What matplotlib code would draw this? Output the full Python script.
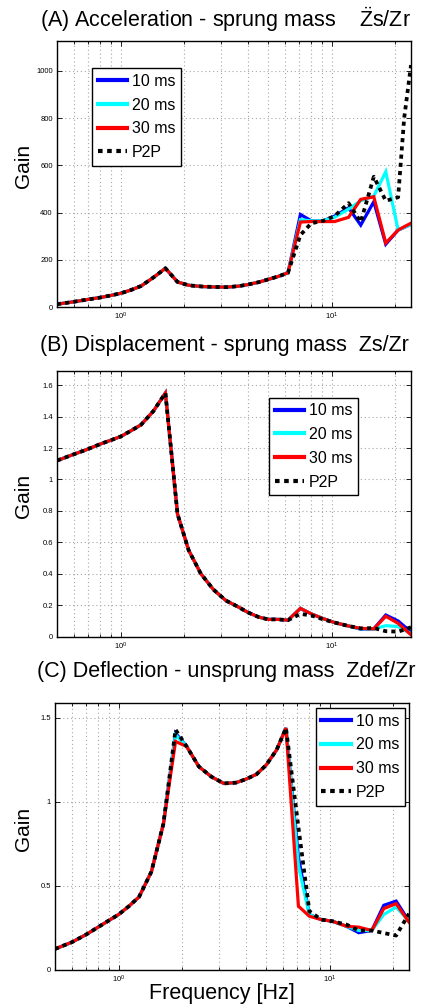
import math
import matplotlib
matplotlib.use("Agg")
import matplotlib.pyplot as plt
from matplotlib.ticker import FuncFormatter, LogLocator, FixedLocator, NullFormatter

plt.rcParams['font.family'] = ['Liberation Sans', 'DejaVu Sans']
plt.rcParams['mathtext.fontset'] = 'custom'
plt.rcParams['mathtext.rm'] = 'Liberation Sans'
plt.rcParams['mathtext.it'] = 'Liberation Sans:italic'
plt.rcParams['mathtext.bf'] = 'Liberation Sans:bold'

# Frequency grid [Hz]
freq = [0.5, 0.6, 0.7, 0.8, 0.9, 1.0, 1.12, 1.25, 1.43, 1.63, 1.86, 2.1, 2.4, 2.75,
        3.15, 3.6, 4.0, 4.5, 5.0, 5.6, 6.2, 7.1, 8.0, 9.1, 10.3, 12.0, 13.7, 15.8,
        18.0, 20.6, 22.0, 23.7]

series_labels = ['10 ms', '20 ms', '30 ms', 'P2P']

# (A) Acceleration - sprung mass
acc_common = [12, 22, 32, 40, 49, 58, 72, 89, 125, 164, 106, 92, 87, 85, 84, 88, 95,
              105, 117, 130, 145]
acc_10 = acc_common + [392, 365, 365, 385, 420, 347, 446, 266, 326, 337, 350]
acc_20 = acc_common + [370, 365, 365, 380, 415, 450, 470, 573, 326, 337, 350]
acc_30 = acc_common + [360, 362, 362, 362, 380, 456, 467, 271, 326, 340, 355]
acc_p2p = acc_common + [305, 355, 365, 385, 440, 360, 552, 450, 465, 800, 1025]

# (B) Displacement - sprung mass
dis_common = [1.12, 1.16, 1.193, 1.225, 1.25, 1.273, 1.31, 1.348, 1.435, 1.55, 0.78,
              0.55, 0.40, 0.30, 0.23, 0.19, 0.155, 0.125, 0.11, 0.11, 0.105]
dis_10 = dis_common + [0.18, 0.145, 0.115, 0.09, 0.068, 0.048, 0.05, 0.138, 0.10, 0.067, 0.03]
dis_20 = dis_common + [0.18, 0.145, 0.115, 0.09, 0.068, 0.05, 0.05, 0.07, 0.065, 0.044, 0.02]
dis_30 = dis_common + [0.18, 0.145, 0.115, 0.09, 0.068, 0.053, 0.05, 0.13, 0.085, 0.051, 0.012]
dis_p2p = dis_common + [0.145, 0.135, 0.11, 0.09, 0.068, 0.053, 0.055, 0.035, 0.032, 0.045, 0.06]

# (C) Deflection - unsprung mass
def_common = [0.125, 0.165, 0.21, 0.255, 0.295, 0.33, 0.38, 0.435, 0.585, 0.87]
def_mid = [1.33, 1.21, 1.15, 1.11, 1.115, 1.135, 1.165, 1.22, 1.31, 1.44]
def_10 = def_common + [1.41] + def_mid + [0.67, 0.33, 0.30, 0.29, 0.26, 0.222, 0.235, 0.385, 0.41, 0.354, 0.29]
def_20 = def_common + [1.40] + def_mid + [0.62, 0.33, 0.30, 0.29, 0.26, 0.235, 0.235, 0.33, 0.375, 0.335, 0.29]
def_30 = def_common + [1.36] + def_mid + [0.38, 0.32, 0.30, 0.29, 0.26, 0.255, 0.235, 0.365, 0.395, 0.343, 0.285]
def_p2p = def_common + [1.43] + def_mid + [0.85, 0.35, 0.30, 0.29, 0.27, 0.235, 0.235, 0.22, 0.205, 0.266, 0.335]

colors = ['#0000FF', '#00FFFF', '#FF0000', '#000000']

W, H = 421, 1006
fig = plt.figure(figsize=(W / 100, H / 100), dpi=100)


def make_axes(left, top, right, bottom):
    return fig.add_axes([left / W, 1 - bottom / H, (right - left) / W, (bottom - top) / H])


panels = [
    dict(box=(57, 41, 411, 307), data=[acc_10, acc_20, acc_30, acc_p2p], ylim=(0, 1127),
         yticks=[0, 200, 400, 600, 800, 1000], leg=(0.099, 0.898),
         title=r"(A) Acceleration - sprung mass    $\ddot{\mathrm{Z}}$s/Zr", tpos=(40, 27)),
    dict(box=(57, 371, 411, 636.7), data=[dis_10, dis_20, dis_30, dis_p2p], ylim=(0, 1.69),
         yticks=[0, 0.2, 0.4, 0.6, 0.8, 1.0, 1.2, 1.4, 1.6], leg=(0.599, 0.90),
         title="(B) Displacement - sprung mass  Zs/Zr", tpos=(40, 351)),
    dict(box=(55, 703.3, 409, 970), data=[def_10, def_20, def_30, def_p2p], ylim=(0, 1.587),
         yticks=[0, 0.5, 1.0, 1.5], leg=(0.737, 0.982),
         title="(C) Deflection - unsprung mass  Zdef/Zr", tpos=(37, 677)),
]

for i, p in enumerate(panels):
    ax = make_axes(*p['box'])
    for k, (vals, lab, col) in enumerate(zip(p['data'], series_labels, colors)):
        if k < 3:
            ax.plot(freq, vals, color=col, lw=2.3, label=lab, solid_joinstyle='miter')
        else:
            ax.plot(freq, vals, color=col, lw=2.7, linestyle=(0, (1.1, 1.1)), label=lab)
    ax.set_xscale('log')
    ax.set_xlim(0.5, 23.7)
    ax.set_ylim(*p['ylim'])
    ax.set_yticks(p['yticks'])
    ax.yaxis.set_major_formatter(FuncFormatter(lambda v, pos: '%g' % v))
    ax.xaxis.set_major_locator(FixedLocator([1, 10]))
    ax.xaxis.set_minor_locator(LogLocator(base=10, subs=range(2, 10), numticks=20))
    ax.xaxis.set_minor_formatter(NullFormatter())
    ax.xaxis.set_major_formatter(FuncFormatter(lambda v, pos: r'$\mathregular{10^{%d}}$' % round(math.log10(v))))
    ax.tick_params(which='both', direction='in', top=True, right=True, labelsize=5.5, pad=3,
                   width=0.6)
    ax.tick_params(which='major', length=3.5)
    ax.tick_params(which='minor', length=2)
    ax.grid(True, which='major', axis='both', linestyle=(0, (1, 2.5)), color='#a8a8a8', lw=0.8)
    ax.grid(True, which='minor', axis='x', linestyle=(0, (1, 2.5)), color='#a8a8a8', lw=0.8)
    ax.set_axisbelow(True)
    for s in ax.spines.values():
        s.set_linewidth(1.0)
    leg = ax.legend(loc='upper left', bbox_to_anchor=p['leg'], borderaxespad=0, fontsize=11.5,
                    handlelength=1.85, handletextpad=0.3, labelspacing=0.55, borderpad=0.35,
                    fancybox=False, framealpha=1, edgecolor='black')
    leg.get_frame().set_linewidth(1.0)
    for h in leg.get_lines():
        h.set_linewidth(3.0)
    fig.text(p['tpos'][0] / W, 1 - p['tpos'][1] / H, p['title'], fontsize=15.5,
             ha='left', va='baseline')
    b = p['box']
    fig.text(23.5 / W, 1 - ((b[1] + b[3]) / 2 - 8) / H, 'Gain', fontsize=15, rotation=90,
             ha='center', va='center')

fig.text(222 / W, 1 - 993 / H, 'Frequency [Hz]', fontsize=15.5, ha='center', va='center')

fig.savefig('out.png', dpi=100)
